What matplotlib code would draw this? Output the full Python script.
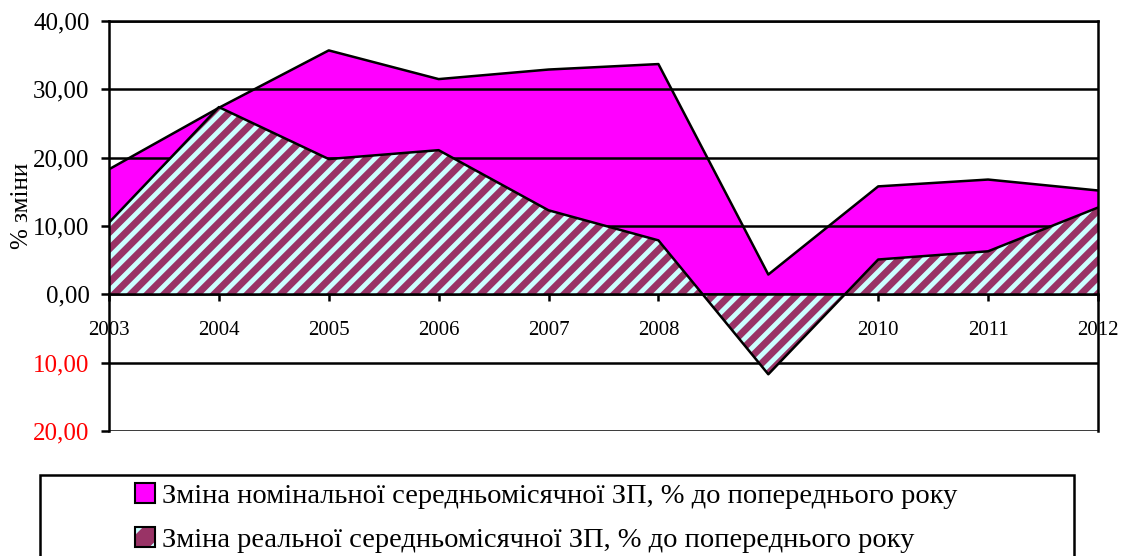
import matplotlib
matplotlib.use("Agg")
import matplotlib.pyplot as plt
from matplotlib.patches import Patch, Rectangle

years = [2003, 2004, 2005, 2006, 2007, 2008, 2009, 2010, 2011, 2012]
nominal = [18.3, 27.3, 35.7, 31.5, 32.9, 33.7, 2.9, 15.8, 16.8, 15.2]
real = [10.5, 27.4, 19.8, 21.1, 12.3, 7.9, -11.7, 5.1, 6.3, 12.7]
y_ticks = [-20, -10, 0, 10, 20, 30, 40]
labels = ["Зміна номінальної середньомісячної ЗП, % до попереднього року",
          "Зміна реальної середньомісячної ЗП, % до попереднього року"]

plt.rcParams["font.family"] = ["Liberation Serif", "DejaVu Serif"]
plt.rcParams["hatch.linewidth"] = 3.5

fig = plt.figure(figsize=(11.26, 5.56), dpi=100)
ax = fig.add_axes([0.0968, 0.2248, 0.8783, 0.7374])

# nominal behind, real (hatched) in front
ax.fill_between(years, nominal, 0, facecolor="#ff00ff", linewidth=0, zorder=2)
ax.plot(years, nominal, color="black", lw=1.8, zorder=3)
ax.fill_between(years, real, 0, facecolor="#993366", edgecolor="#ccffff",
                hatch="//", linewidth=0, zorder=4)
ax.plot(years, real, color="black", lw=1.8, zorder=5)

ax.set_xlim(2003, 2012)
ax.set_ylim(-20, 40)
ax.set_yticks(y_ticks)
ax.set_yticklabels([f"{abs(v):.2f}".replace(".", ",") for v in y_ticks])
for lab, v in zip(ax.get_yticklabels(), y_ticks):
    if v < 0:
        lab.set_color("red")
ax.set_xticks(years)
ax.set_xticklabels([str(y) for y in years])

ax.grid(axis="y", color="black", lw=1.8, zorder=1)
ax.set_axisbelow(False)
for s in ["left", "right", "top", "bottom"]:
    ax.spines[s].set_linewidth(1.8)
    ax.spines[s].set_zorder(6)
ax.spines["bottom"].set_position(("data", 0))
ax.tick_params(axis="y", direction="out", length=6, width=1.8,
               labelsize=18, pad=8)
ax.tick_params(axis="x", direction="out", length=5, width=1.8,
               labelsize=15, pad=14)
for lab in ax.get_xticklabels():
    lab.set_zorder(7)

ax.set_ylabel("% зміни", fontsize=18)
ax.yaxis.set_label_coords(-0.077, 0.55)

# legend frame
fig.add_artist(Rectangle((0.0355, -0.05), 0.918, 0.1957, transform=fig.transFigure,
                         facecolor="white", edgecolor="black", lw=1.8, clip_on=False))
h1 = Patch(facecolor="#ff00ff", edgecolor="black", lw=1.5)
h2 = (Patch(facecolor="#993366", edgecolor="#ccffff", hatch="/", lw=0),
      Patch(facecolor="none", edgecolor="black", lw=1.5))
fig.legend([h1, h2], labels, loc="center", bbox_to_anchor=(0.485, 0.068),
           frameon=False, fontsize=20.5, handlelength=0.7, handleheight=0.7,
           handletextpad=0.25, labelspacing=0.62, borderpad=0)

fig.savefig("out.png", dpi=100)
